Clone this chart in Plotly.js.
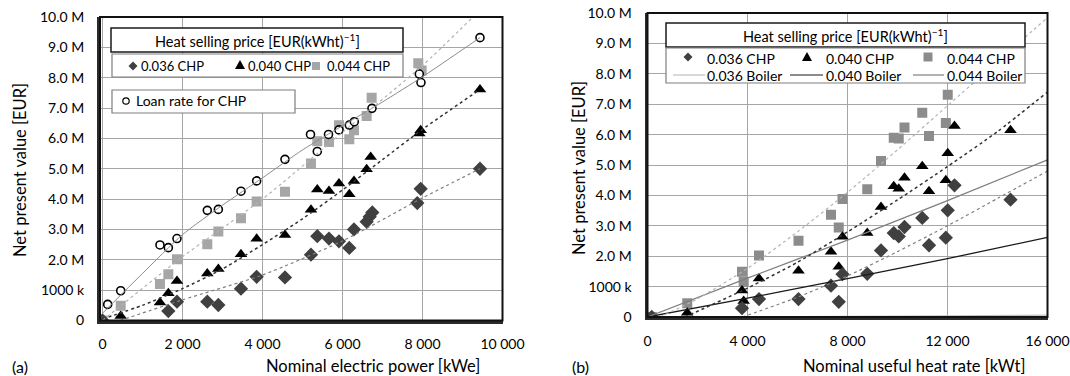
<!DOCTYPE html>
<html><head><meta charset="utf-8">
<script src="https://cdn.plot.ly/plotly-3.0.1.min.js"></script>
<style>html,body{margin:0;padding:0;background:#fff}#chart{width:1070px;height:376px}</style>
</head><body><div id="chart"></div>
<script>
// ---------- Panel (a): nominal electric power [kWe] vs NPV [M EUR]
const aLoanX = [130, 455, 1437, 1646, 1862, 2620, 2896, 3462, 3854, 4562, 5200, 5370, 5650, 5912, 6170, 6295, 6737, 7920, 7962, 9437];
const aLoanY = [0.53, 0.98, 2.49, 2.40, 2.70, 3.63, 3.66, 4.26, 4.60, 5.31, 6.13, 5.57, 6.13, 6.28, 6.44, 6.55, 6.99, 8.12, 7.84, 9.32];

const aC036X = [0, 1646, 1862, 2620, 2896, 3462, 3854, 4562, 5212, 5370, 5662, 5912, 6170, 6287, 6604, 6680, 6745, 7870, 7954, 9437];
const aC036Y = [0, 0.31, 0.62, 0.62, 0.51, 1.05, 1.44, 1.42, 2.17, 2.78, 2.70, 2.61, 2.39, 3.00, 3.25, 3.42, 3.56, 3.87, 4.34, 5.00];

const aC040X = [0, 455, 1437, 1646, 1862, 2620, 2896, 3462, 3854, 4562, 5212, 5370, 5662, 5912, 6170, 6287, 6604, 6704, 7920, 7954, 9437];
const aC040Y = [0, 0.15, 0.59, 0.90, 1.30, 1.55, 1.70, 2.18, 2.69, 2.82, 3.65, 4.32, 4.27, 4.51, 4.16, 4.60, 4.98, 5.39, 6.16, 6.27, 7.61];

const aC044X = [0, 455, 1437, 1646, 1862, 2620, 2896, 3462, 3854, 4562, 5212, 5370, 5662, 5912, 6170, 6287, 6604, 6729, 7895, 7979];
const aC044Y = [0, 0.49, 1.20, 1.52, 2.02, 2.51, 2.93, 3.37, 3.92, 4.24, 5.17, 5.91, 5.88, 6.43, 5.97, 6.27, 6.74, 7.34, 8.48, 8.24];

// trendlines of panel (a)
const aLoanTrX = [0, 1000, 2000, 3000, 4000, 5000, 6000, 7000, 8000, 9437];
const aLoanTrY = [0.24, 1.55, 2.83, 3.80, 4.70, 5.62, 6.42, 7.20, 8.03, 9.32];
const aC036TrX = [440, 2000, 4000, 6000, 8000, 9437];
const aC036TrY = [0, 0.68, 1.50, 2.62, 4.04, 5.00];
const aC040TrX = [0, 1000, 2000, 3000, 4000, 5000, 6000, 7000, 8000, 9437];
const aC040TrY = [0.05, 0.50, 1.05, 1.70, 2.50, 3.35, 4.30, 5.30, 6.30, 7.61];
const aC044TrX = [0, 2000, 4000, 6000, 8000, 9262];
const aC044TrY = [0, 2.10, 4.00, 6.20, 8.40, 10.0];

// ---------- Panel (b): nominal useful heat rate [kWt] vs NPV [M EUR]
const bC036X = [170, 3780, 4460, 6040, 7340, 7650, 7800, 8790, 9340, 9850, 10050, 10280, 10990, 11260, 11933, 12010, 12280, 14520];
const bC036Y = [0, 0.29, 0.59, 0.59, 1.03, 0.50, 1.41, 1.42, 2.19, 2.76, 2.65, 2.96, 3.26, 2.36, 2.61, 3.51, 4.33, 3.86];

const bC040X = [170, 1590, 3780, 3847, 4460, 6040, 7340, 7650, 7800, 8790, 9340, 9850, 10050, 10280, 10990, 11260, 11933, 12010, 12280, 14520];
const bC040Y = [0, 0.14, 0.87, 0.53, 1.27, 1.52, 2.15, 1.65, 2.64, 2.76, 3.62, 4.30, 4.22, 4.58, 4.96, 4.14, 4.50, 5.39, 6.28, 6.14];

const bC044X = [170, 1590, 3780, 3847, 4460, 6040, 7340, 7650, 7800, 8790, 9340, 9850, 10050, 10280, 10990, 11260, 11933, 12010];
const bC044Y = [0, 0.45, 1.49, 1.16, 2.02, 2.51, 3.36, 2.94, 3.88, 4.20, 5.13, 5.90, 5.87, 6.23, 6.72, 5.95, 6.38, 7.31];

const bBoilerX   = [0, 4000, 8000, 12000, 16000];
const bBoiler036 = [0, 0.01, 0.02, 0.04, 0.06];
const bBoiler040 = [0, 0.62, 1.26, 1.92, 2.62];
const bBoiler044 = [0, 1.28, 2.53, 3.83, 5.17];

// trendlines of panel (b)
const bC036TrX = [3800, 6000, 8000, 10000, 12000, 14000, 16000];
const bC036TrY = [0, 0.65, 1.35, 2.15, 3.00, 3.90, 4.80];
const bC040TrX = [1500, 4000, 6000, 8000, 10000, 12000, 14000, 16000];
const bC040TrY = [0, 0.95, 1.80, 2.80, 3.85, 4.95, 6.10, 7.40];
const bC044TrX = [500, 2000, 4000, 6000, 8000, 10000, 12000, 14000, 16000];
const bC044TrY = [0, 0.60, 1.60, 2.80, 4.10, 5.50, 6.95, 8.40, 9.85];

// ---------- tick labels
const aXTicks = [0, 2000, 4000, 6000, 8000, 10000];
const aXText  = ['0', '2 000', '4 000', '6 000', '8 000', '10 000'];
const bXTicks = [0, 4000, 8000, 12000, 16000];
const bXText  = ['0', '4 000', '8 000', '12 000', '16 000'];
const yTicks  = [0, 1, 2, 3, 4, 5, 6, 7, 8, 9, 10];
const yText   = ['0', '1000 k', '2.0 M', '3.0 M', '4.0 M', '5.0 M', '6.0 M', '7.0 M', '8.0 M', '9.0 M', '10.0 M'];

const DIA = '#404040', TRI = '#000000', SQA = '#a6a6a6', SQB = '#8c8c8c';
function mk(xs, ys, sym, size, color, ax, line) {
  return {x: xs, y: ys, type: 'scatter', mode: 'markers', xaxis: ax[0], yaxis: ax[1],
    marker: {symbol: sym, size: size, color: color, line: line || {width: 0}}, hoverinfo: 'skip'};
}
function ln(xs, ys, color, width, dash, ax) {
  return {x: xs, y: ys, type: 'scatter', mode: 'lines', xaxis: ax[0], yaxis: ax[1], line: {color: color, width: width, dash: dash, shape: 'spline', smoothing: 0.6}, hoverinfo: 'skip'};
}
const A = ['x', 'y'], B = ['x2', 'y2'];

const traces = [
  mk(aC044X, aC044Y, 'square', 10, SQA, A),
  mk(aC040X, aC040Y, 'triangle-up', 11, TRI, A),
  mk(aC036X, aC036Y, 'diamond', 11, DIA, A),
  mk(aLoanX, aLoanY, 'circle', 8, '#ffffff', A, {color: '#000', width: 1.6}),
  ln(aLoanTrX, aLoanTrY, '#8c8c8c', 1, 'solid', A),
  ln(aC036TrX, aC036TrY, '#808080', 1.2, 'dot', A),
  ln(aC040TrX, aC040TrY, '#333333', 1.5, 'dot', A),
  ln(aC044TrX, aC044TrY, '#b3b3b3', 1.2, 'dot', A),

  mk(bC044X, bC044Y, 'square', 10, SQB, B),
  mk(bC040X, bC040Y, 'triangle-up', 11, TRI, B),
  mk(bC036X, bC036Y, 'diamond', 11, DIA, B),
  ln(bBoilerX, bBoiler036, '#bfbfbf', 1.2, 'solid', B),
  ln(bBoilerX, bBoiler040, '#1a1a1a', 1.3, 'solid', B),
  ln(bBoilerX, bBoiler044, '#7f7f7f', 1.2, 'solid', B),
  ln(bC036TrX, bC036TrY, '#808080', 1.2, 'dot', B),
  ln(bC040TrX, bC040TrY, '#333333', 1.5, 'dot', B),
  ln(bC044TrX, bC044TrY, '#b3b3b3', 1.2, 'dot', B)
];

// ---------- layout helpers (pixel -> paper)
const W = 1070, H = 376;
const X = p => p / W, Y = p => 1 - p / H;
const FONT = 'Lato, "Open Sans", sans-serif', TXT = '#000000';

function axisX(ticks, text, dom, range, anchor) {
  return {domain: [X(dom[0]), X(dom[1])], range: range, anchor: anchor, tickvals: ticks, ticktext: text,
    showgrid: true, gridcolor: '#a6a6a6', gridwidth: 1, zeroline: false, showline: true, linecolor: '#2b2b2b',
    linewidth: 3, ticks: '', ticklabelstandoff: 9, tickfont: {family: FONT, size: 14, color: TXT}, fixedrange: true};
}
function axisY(dom, anchor) {
  return {domain: [Y(dom[1]), Y(dom[0])], range: [0, 10], anchor: anchor, tickvals: yTicks, ticktext: yText,
    showgrid: true, gridcolor: '#a6a6a6', gridwidth: 1, zeroline: false, showline: true, linecolor: '#2b2b2b',
    linewidth: 3, ticks: '', ticklabelstandoff: 10, tickfont: {family: FONT, size: 14, color: TXT}, fixedrange: true};
}

const shapes = [], annotations = [];
function rect(x0, y0, x1, y1, color, w) {
  shapes.push({type: 'rect', xref: 'paper', yref: 'paper', x0: X(x0), x1: X(x1), y0: Y(y1), y1: Y(y0),
    line: {color: color, width: w}, fillcolor: '#ffffff', layer: 'above'});
}
function pathPx(pts, fill) {
  const d = pts.map((p, i) => (i ? 'L' : 'M') + X(p[0]) + ',' + Y(p[1])).join(' ') + ' Z';
  shapes.push({type: 'path', xref: 'paper', yref: 'paper', path: d, fillcolor: fill, line: {color: fill, width: 0}, layer: 'above'});
}
function diamond(cx, cy, r, c) { pathPx([[cx, cy - r], [cx + r, cy], [cx, cy + r], [cx - r, cy]], c); }
function triangle(cx, cy, r, c) { pathPx([[cx, cy - r], [cx + r, cy + r * 0.8], [cx - r, cy + r * 0.8]], c); }
function square(cx, cy, r, c) { pathPx([[cx - r, cy - r], [cx + r, cy - r], [cx + r, cy + r], [cx - r, cy + r]], c); }
function circle(cx, cy, r) {
  shapes.push({type: 'circle', xref: 'paper', yref: 'paper', x0: X(cx - r), x1: X(cx + r), y0: Y(cy + r), y1: Y(cy - r),
    line: {color: '#000', width: 1.2}, fillcolor: '#fff', layer: 'above'});
}
function hline(x0, x1, y, c, w) {
  shapes.push({type: 'line', xref: 'paper', yref: 'paper', x0: X(x0), x1: X(x1), y0: Y(y), y1: Y(y),
    line: {color: c, width: w}, layer: 'above'});
}
function text(t, x, y, anchor, size, angle) {
  annotations.push({text: t, xref: 'paper', yref: 'paper', x: X(x), y: Y(y), xanchor: anchor || 'left', yanchor: 'middle',
    showarrow: false, textangle: angle || 0, font: {family: FONT, size: size || 13, color: TXT}});
}

// plot frames
shapes.push({type: 'rect', xref: 'x domain', yref: 'y domain', x0: 0, x1: 1, y0: 0, y1: 1, line: {color: '#111', width: 2}, layer: 'above'});
shapes.push({type: 'rect', xref: 'x2 domain', yref: 'y2 domain', x0: 0, x1: 1, y0: 0, y1: 1, line: {color: '#111', width: 2}, layer: 'above'});

const SUP = 'Heat selling price [EUR(kWht)<sup>−1</sup>]';
// legend (a)
rect(111, 28, 403, 52, '#1a1a1a', 1.5);
text(SUP, 257, 40, 'center', 14.5);
rect(112, 54, 403, 77, '#7f7f7f', 1.2);
diamond(133, 66, 4.5, DIA); text('0.036 CHP', 139, 66);
triangle(240, 65, 5, TRI);  text('0.040 CHP', 246, 66);
square(316, 66, 4, SQA);    text('0.044 CHP', 325, 66);
rect(112, 90, 295, 113, '#7f7f7f', 1.2);
circle(126, 101, 3.2); text('Loan rate for CHP', 134, 101, 'left', 14);

// legend (b)
rect(666, 23, 1025, 47, '#1a1a1a', 1.5);
text(SUP, 845, 35, 'center', 14.5);
rect(666, 48, 1025, 83, '#7f7f7f', 1.2);
diamond(688, 57, 4.5, DIA); text('0.036 CHP', 705, 58, 'left', 14);
triangle(807, 57, 5, TRI);  text('0.040 CHP', 824, 58, 'left', 14);
square(928, 57, 4.5, SQB);  text('0.044 CHP', 945, 58, 'left', 14);
hline(673, 705, 75, '#bfbfbf', 1.2); text('0.036 Boiler', 705, 75, 'left', 14);
hline(790, 823, 75, '#1a1a1a', 1.2); text('0.040 Boiler', 824, 75, 'left', 14);
hline(913, 944, 75, '#7f7f7f', 1.2); text('0.044 Boiler', 945, 75, 'left', 14);

// axis titles and panel labels
text('Net present value [EUR]', 20, 170, 'center', 16.5, -90);
text('Net present value [EUR]', 579, 168, 'center', 16.5, -90);
text('Nominal electric power [kWe]', 373, 366, 'center', 16.5);
text('Nominal useful heat rate [kWt]', 914, 366, 'center', 16.5);
text('(a)', 20, 366, 'center', 16);
text('(b)', 580, 366, 'center', 16);

const layout = {
  width: W, height: H, margin: {l: 0, r: 0, t: 0, b: 0}, paper_bgcolor: '#fff', plot_bgcolor: '#fff',
  showlegend: false,
  xaxis: axisX(aXTicks, aXText, [100, 502.5], [-62.5, 10000], 'y'),
  yaxis: axisY([17, 320.5], 'x'),
  xaxis2: axisX(bXTicks, bXText, [647.5, 1047.5], [0, 16000], 'y2'),
  yaxis2: axisY([13, 317], 'x2'),
  shapes: shapes, annotations: annotations
};
Plotly.newPlot('chart', traces, layout, {staticPlot: true, displayModeBar: false});
</script></body></html>
